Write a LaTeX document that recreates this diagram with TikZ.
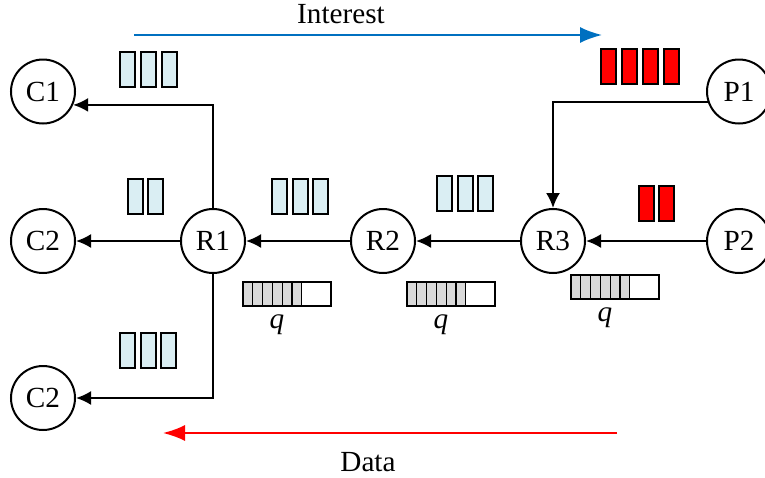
\documentclass[tikz,border=0pt]{standalone}
\usepackage{fontspec}
\setmainfont{Liberation Serif}
\usetikzlibrary{positioning,arrows.meta}
\definecolor{pktblue}{HTML}{DAEEF3}
\definecolor{intblue}{HTML}{0070C0}
\definecolor{cellgray}{HTML}{D9D9D9}

\begin{document}
\begin{tikzpicture} [
	x=0.5pt, y=-0.5pt,
	node distance=52pt,
	every node/.style={font=\fontsize{14.6}{17}\selectfont},
	site/.style={
		circle,draw,line width=1pt,
		inner sep=0pt,minimum size=32pt},
	pkt/.style={
		rectangle,draw,fill=pktblue,line width=1pt,
		inner sep=0pt,minimum width=7.5pt,minimum height=17.5pt},
	hot/.style={
		pkt,fill=red},
	cell/.style={
		draw,fill=cellgray,line width=0.6pt},
	tip/.style={
		-{Latex[length=7.5pt,width=7pt]},line width=1pt},
	flow/.style={
		-{Latex[length=11pt,width=8pt]},line width=0.9pt}]
\useasboundingbox (0,0) rectangle (765,477);

% routers, consumers and producers
\node [site]	(R1) at (213,241)		{R1};
\node [site]	(R2) [right=of R1]		{R2};
\node [site]	(R3) [right=of R2]		{R3};
\node [site]	(P2) [right=60pt of R3]	{P2};
\node [site]	(P1) [above=41.75pt of P2]	{P1};
\node [site]	(C2) [left=of R1]		{C2};
\node [site]	(C1) [above=41.75pt of C2]	{C1};
\node [site]	(C3) [below=45.5pt of C2]	{C2};

% packets on the links
\foreach \x [count=\i] in {127.5,148.5,169.5}
	\node [pkt] (up\i) at (\x,69.5) {};
\foreach \x [count=\i] in {135.5,155}
	\node [pkt] (mid\i) at (\x,196) {};
\foreach \x [count=\i] in {127.5,148,168.5}
	\node [pkt] (low\i) at (\x,350.5) {};
\foreach \x [count=\i] in {279.5,300,320.5}
	\node [pkt] (hop\i) at (\x,196) {};
\foreach \x [count=\i] in {444.5,465,485.5}
	\node [pkt] (nxt\i) at (\x,193) {};
\foreach \x [count=\i] in {608.5,629.5,650.5,671.5}
	\node [hot] (src\i) at (\x,66.5) {};
\foreach \x [count=\i] in {646,666.5}
	\node [hot] (two\i) at (\x,203) {};

% router queues
\foreach \qx/\qy [count=\j] in {243/282,407/282,571/275} {
	\foreach \k in {0,...,5}
		\draw [cell] (\qx+\k*9.78,\qy) rectangle ++(9.78,24);
	\draw [line width=0.8pt] (\qx,\qy) rectangle ++(88,24);
	\node (q\j) at (\qx+34,\qy+43) {\textit{q}};
}

% data path
\draw [tip] (R2) -- (R1);
\draw [tip] (R3) -- (R2);
\draw [tip] (P2) -- (R3);
\draw [tip] (R1) -- (C2);
\draw [tip] (R1) |- (C1.-24);
\draw [tip] (R1) |- (C3);
\draw [tip] (P1.199) -| (R3);

% directions
\coordinate (i0) at (134,35);
\coordinate (i1) at (602,35);
\draw [flow,draw=intblue] (i0) -- (i1);
\node (interest) at (341,14) {Interest};
\coordinate (d0) at (617,433);
\coordinate (d1) at (163,433);
\draw [flow,draw=red] (d0) -- (d1);
\node (data) at (368,462) {Data};
\end{tikzpicture}
\end{document}
